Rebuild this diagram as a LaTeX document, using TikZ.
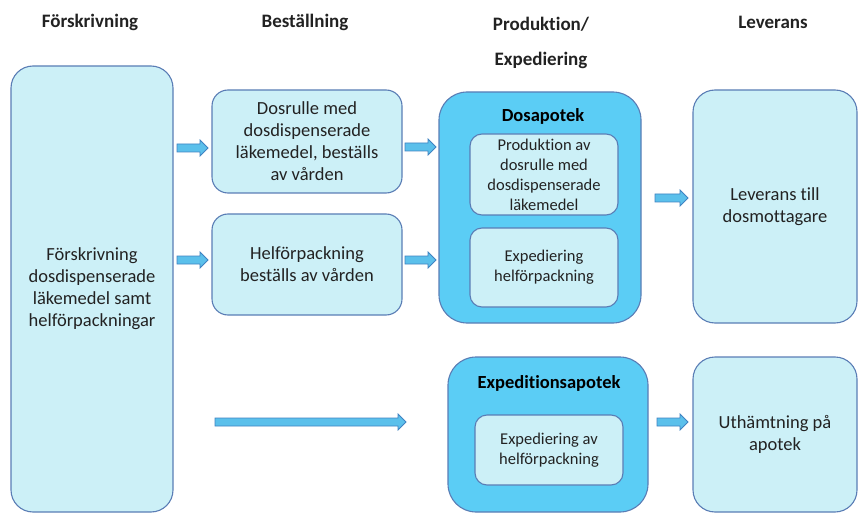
\documentclass[tikz,border=0pt]{standalone}
\usepackage{fontspec}
\setmainfont{Carlito}[Ligatures=NoCommon]
\usetikzlibrary{calc}
\definecolor{lightbox}{HTML}{CCF0F7}
\definecolor{boxline}{HTML}{5A7DB5}
\definecolor{darkbox}{HTML}{5BCDF5}
\definecolor{arrfill}{HTML}{5BC0EB}
\definecolor{arrline}{HTML}{3F83C2}
\definecolor{txt}{HTML}{222222}
\tikzset{
  lbox/.style={draw=boxline, fill=lightbox, line width=1.1pt, rounded corners=#1, text=txt, align=center, inner sep=0pt, font=\fontsize{18.5}{22}\selectfont},
  lbox/.default=16pt,
  dbox/.style={draw=boxline, fill=darkbox, line width=1.1pt, rounded corners=28pt, inner sep=0pt},
  ibox/.style={draw=boxline, fill=lightbox, line width=1.1pt, rounded corners=12pt, text=txt, align=center, inner sep=0pt, font=\fontsize{16.5}{20}\selectfont},
  head/.style={font=\bfseries\fontsize{19}{22}\selectfont, text=txt},
  btitle/.style={font=\bfseries\fontsize{18.5}{22}\selectfont, text=black},
  barrow/.style={draw=arrline, fill=arrfill, line width=0.8pt, line join=miter}
}
\newcommand\blockarr[2]{%
  \path[barrow] let \p1=(#1), \p2=(#2) in
    (\x1,\y1+4pt) -- (\x2-8pt,\y1+4pt) -- (\x2-8pt,\y1+8pt) -- (\x2,\y1)
    -- (\x2-8pt,\y1-8pt) -- (\x2-8pt,\y1-4pt) -- (\x1,\y1-4pt) -- cycle;}
\begin{document}
\begin{tikzpicture}[x=1pt,y=-1pt]
\useasboundingbox (0,0) rectangle (859,513);
% headers
\node[head] (h1) at (90,22) {Förskrivning};
\node[head] (h2) at (305,22) {Beställning};
\node[head] (h3) at (541,24) {Produktion/};
\node[head] (h3b) at (541,60) {Expediering};
\node[head] (h4) at (773,22) {Leverans};
% column 1
\node[lbox=22pt, minimum width=162pt, minimum height=446pt] (fors) at (92,289)
  {Förskrivning\\dosdispenserade\\läkemedel samt\\helförpackningar};
% column 2
\node[lbox, minimum width=190pt, minimum height=103pt] (b1) at (307,141.5)
  {Dosrulle med\\dosdispenserade\\läkemedel, beställs\\av vården};
\node[lbox, minimum width=190pt, minimum height=101pt] (b2) at (307,264.5)
  {Helförpackning\\beställs av vården};
% column 3
\node[dbox, minimum width=202pt, minimum height=231pt] (dosa) at (540,207.5) {};
\node[btitle] (dosat) at (543,116) {Dosapotek};
\node[ibox, minimum width=148pt, minimum height=81pt] (d1) at (544,174.5)
  {Produktion av\\dosrulle med\\dosdispenserade\\läkemedel};
\node[ibox, minimum width=148pt, minimum height=79pt] (d2) at (544,267.5)
  {Expediering\\helförpackning};
\node[dbox, minimum width=200pt, minimum height=155pt] (exp) at (548,434.5) {};
\node[btitle] (expt) at (549,383) {Expeditionsapotek};
\node[ibox, minimum width=148pt, minimum height=70pt] (e1) at (549,450)
  {Expediering av\\helförpackning};
% column 4
\node[lbox=22pt, minimum width=164pt, minimum height=233pt] (lev) at (775,206.5)
  {Leverans till\\dosmottagare};
\node[lbox=22pt, minimum width=164pt, minimum height=155pt] (uth) at (775,434.5)
  {Uthämtning på\\apotek};
% arrows
\coordinate (a1s) at (177,148); \coordinate (a1e) at (208,148);
\coordinate (a2s) at (177,260); \coordinate (a2e) at (208,260);
\coordinate (a3s) at (405,147); \coordinate (a3e) at (436,147);
\coordinate (a4s) at (405,260); \coordinate (a4e) at (436,260);
\coordinate (a5s) at (655,198); \coordinate (a5e) at (688,198);
\coordinate (a6s) at (215,422); \coordinate (a6e) at (406,422);
\coordinate (a7s) at (657,422); \coordinate (a7e) at (688,422);
\blockarr{a1s}{a1e}
\blockarr{a2s}{a2e}
\blockarr{a3s}{a3e}
\blockarr{a4s}{a4e}
\blockarr{a5s}{a5e}
\blockarr{a6s}{a6e}
\blockarr{a7s}{a7e}
\end{tikzpicture}
\end{document}
